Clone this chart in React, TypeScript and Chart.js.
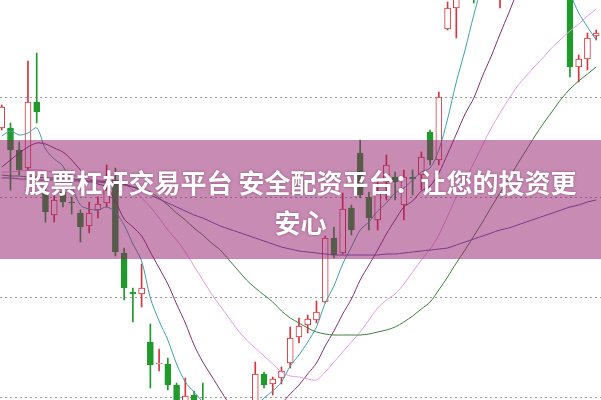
import React, { useEffect, useRef } from 'react';
import { Chart, registerables } from 'chart.js';

Chart.register(...registerables);

// Candles (price)
const opens = [12.69,12.69,12.47,12.29,12.95,12.04,11.82,12.05,11.95,11.84, 11.71,11.87,11.94,12.17,11.44,11.05,11.03,10.55,10.33,10.33, 10.12,9.85,10.02,9.92,9.72,9.77,9.69,9.79,9.85,9.95, 10.23,10.13,10.19,10.34,10.60,10.72,10.77,10.95,11.59,11.44, 11.89,12.44,12.00,11.77,12.15,12.20,11.92,12.20,12.22,12.65, 12.37,13.68,13.89,14.25,14.10,14.05,14.40,14.10,14.35,14.55, 14.30,14.45,14.55,14.15,14.05,14.12,13.30,13.38,13.61];
const highs = [12.92,12.74,12.55,13.36,13.44,12.12,12.02,12.09,12.00,11.87, 11.95,12.00,12.32,12.29,11.49,11.09,11.33,10.73,10.48,10.39, 10.14,10.19,10.06,10.14,9.87,9.85,9.92,9.94,9.95,10.35, 10.25,10.20,10.30,10.70,10.79,10.82,10.96,11.61,11.70,12.04, 11.92,12.57,12.05,12.17,12.42,12.25,12.27,12.27,12.45,12.67, 13.05,13.95,14.27,14.40,14.25,14.45,14.55,14.45,14.60,14.70, 14.55,14.70,14.65,14.30,14.35,14.22,13.42,13.64,13.67];
const lows = [12.67,12.07,12.22,12.27,12.74,11.75,11.75,11.90,11.83,11.55, 11.64,11.79,11.90,11.41,10.97,10.75,10.90,10.09,10.26,10.07, 9.82,9.79,9.77,9.67,9.57,9.57,9.52,9.67,9.72,9.92, 10.09,10.02,10.13,10.29,10.54,10.64,10.74,10.94,11.39,11.43, 11.62,11.99,11.67,11.67,11.97,11.97,11.77,12.02,12.07,12.32, 12.32,13.67,13.59,14.00,13.94,14.00,14.15,13.89,14.20,14.25, 14.15,14.30,14.10,14.02,14.00,13.20,13.15,13.27,13.57];
const closes = [12.90,12.47,12.27,12.95,12.85,11.85,11.97,11.95,11.94,11.70, 11.84,11.93,12.07,11.45,11.09,11.03,11.09,10.32,10.34,10.12, 9.87,10.01,9.85,9.72,9.77,9.67,9.79,9.85,9.92,10.23, 10.12,10.18,10.26,10.59,10.71,10.78,10.85,11.59,11.42,11.88, 11.67,12.02,11.79,12.05,12.32,12.15,12.20,12.18,12.40,12.37, 13.00,13.89,14.17,14.05,14.02,14.38,14.20,14.35,14.50,14.30, 14.45,14.60,14.15,14.05,14.25,13.30,13.38,13.59,13.64];

// Moving-average lines
const ma5 = [12.61,12.66,12.62,12.64,12.69,12.48,12.38,12.31,12.11,11.92, 11.88,11.87,11.90,11.85,11.72,11.53,11.36,10.99,10.76,10.57, 10.33,10.15,10.05,9.95,9.85,9.79,9.73,9.74,9.80,9.90, 9.99,10.06,10.15,10.31,10.42,10.55,10.70,10.94,11.11,11.33, 11.50,11.67,11.75,11.86,11.94,12.04,12.09,12.17,12.25,12.29, 12.47,12.78,13.15,13.47,13.82,14.10,14.16,14.20,14.29,14.35, 14.36,14.44,14.40,14.31,14.28,14.04,13.84,13.70,13.57];
const ma10 = [12.30,12.37,12.44,12.50,12.54,12.53,12.49,12.45,12.37,12.27, 12.18,12.13,12.10,11.96,11.78,11.70,11.61,11.45,11.29,11.13, 10.93,10.74,10.52,10.35,10.21,10.07,9.94,9.89,9.85,9.86, 9.89,9.90,9.94,10.03,10.12,10.23,10.34,10.51,10.66,10.83, 10.98,11.17,11.32,11.47,11.63,11.77,11.90,11.96,12.06,12.11, 12.24,12.43,12.63,12.83,12.99,13.21,13.41,13.63,13.84,14.05, 14.17,14.24,14.24,14.24,14.26,14.15,14.09,14.05,14.02];
const ma20 = [12.25,12.25,12.26,12.27,12.27,12.26,12.25,12.24,12.22,12.20, 12.18,12.17,12.16,12.15,12.13,12.07,11.99,11.90,11.79,11.67, 11.57,11.45,11.31,11.17,11.03,10.91,10.79,10.67,10.57,10.49, 10.41,10.33,10.25,10.21,10.20,10.18,10.17,10.25,10.35,10.45, 10.55,10.65,10.77,10.89,10.97,11.03,11.13,11.25,11.37,11.48, 11.62,11.81,12.00,12.17,12.34,12.52,12.69,12.84,12.98,13.11, 13.21,13.31,13.40,13.50,13.58,13.66,13.73,13.81,13.88];
const ma30 = [12.22,12.21,12.21,12.20,12.20,12.19,12.19,12.18,12.18,12.17, 12.16,12.16,12.15,12.14,12.12,12.10,12.08,12.05,11.99,11.92, 11.84,11.77,11.69,11.62,11.54,11.47,11.37,11.27,11.17,11.09, 11.02,10.95,10.86,10.79,10.74,10.69,10.65,10.63,10.62,10.62, 10.62,10.62,10.63,10.65,10.67,10.70,10.75,10.81,10.88,10.95, 11.07,11.20,11.34,11.47,11.61,11.75,11.90,12.04,12.18,12.33, 12.47,12.61,12.74,12.86,12.98,13.08,13.16,13.23,13.30];
const ma60 = [12.19,12.19,12.18,12.18,12.17,12.17,12.17,12.16,12.16,12.16, 12.15,12.15,12.14,12.14,12.13,12.10,12.06,12.02,11.98,11.94, 11.90,11.86,11.82,11.79,11.75,11.71,11.68,11.65,11.62,11.59, 11.56,11.53,11.50,11.48,11.46,11.45,11.44,11.43,11.42,11.42, 11.42,11.42,11.42,11.42,11.43,11.43,11.44,11.45,11.46,11.47, 11.48,11.49,11.52,11.55,11.58,11.61,11.64,11.67,11.69,11.72, 11.75,11.78,11.81,11.84,11.87,11.90,11.92,11.95,11.97];

const gridLevels = [10, 11, 12, 13];
const bannerLine1 = '股票杠杆交易平台 安全配资平台：让您的投资更';
const bannerLine2 = '安心';

const UP = '#d8343c';
const DOWN = '#1f9a2b';

export default function App() {
  const ref = useRef<HTMLCanvasElement | null>(null);

  useEffect(() => {
    document.body.style.margin = '0';
    const idx = opens.map((_, i) => i);
    const isUp = idx.map((i) => closes[i] >= opens[i]);
    const line = (data: number[], color: string) => ({
      type: 'line' as const,
      data: idx.map((i) => ({ x: i, y: data[i] })),
      borderColor: color,
      borderWidth: 1,
      pointRadius: 0,
      tension: 0.3,
      fill: false,
      order: 0,
    });
    const chart = new Chart(ref.current as HTMLCanvasElement, {
      type: 'bar',
      data: {
        datasets: [
          line(ma60, '#5d58a2'),
          line(ma30, '#3f7e3f'),
          line(ma20, '#e39be2'),
          line(ma10, '#7b3370'),
          line(ma5, '#3ba1ab'),
          {
            type: 'bar',
            data: idx.map((i) => ({ x: i, y: [opens[i], closes[i]] })),
            backgroundColor: idx.map((i) => (isUp[i] ? '#ffffff' : DOWN)),
            borderColor: idx.map((i) => (isUp[i] ? UP : DOWN)),
            borderWidth: 1,
            borderSkipped: false,
            barThickness: 6,
            minBarLength: 1,
            grouped: false,
            order: 1,
          } as any,
          {
            type: 'bar',
            data: idx.map((i) => ({ x: i, y: [lows[i], highs[i]] })),
            backgroundColor: idx.map((i) => (isUp[i] ? UP : DOWN)),
            borderWidth: 0,
            barThickness: 1,
            grouped: false,
            order: 2,
          } as any,
        ],
      },
      options: {
        responsive: false,
        maintainAspectRatio: false,
        animation: false,
        layout: { padding: 0 },
        plugins: { legend: { display: false }, tooltip: { enabled: false } },
        scales: {
          x: { type: 'linear', min: -0.2, max: 68.55, display: false, offset: false },
          y: {
            type: 'linear',
            min: 9.97,
            max: 13.97,
            afterFit: (s: any) => { s.width = 0; },
            afterBuildTicks: (s: any) => { s.ticks = gridLevels.map((v) => ({ value: v })); },
            ticks: { display: false },
            border: { display: false, dash: [2, 3] },
            grid: { color: '#9c9c9c', drawTicks: false, tickLength: 0, lineWidth: 1 },
          },
        },
      } as any,
    });
    return () => chart.destroy();
  }, []);

  return (
    <div style={{ position: 'relative', width: 601, height: 400, overflow: 'hidden', background: '#fff' }}>
      <style>{'body{margin:0}'}</style>
      <canvas ref={ref} width={601} height={400} style={{ display: 'block' }} />
      <div
        style={{
          position: 'absolute', left: 0, top: 140, width: 601, height: 119,
          background: 'rgba(145,25,105,0.5)',
        }}
      />
      <div
        style={{
          position: 'absolute', left: 0, top: 162, width: 601, textAlign: 'center',
          color: '#ffffff', fontFamily: '"Noto Sans CJK SC", "Noto Sans", sans-serif',
          fontWeight: 700, fontSize: 26, lineHeight: '40px', whiteSpace: 'nowrap',
          textShadow: '0 0 3px rgba(90,30,70,0.5)',
        }}
      >
        {bannerLine1}
        <br />
        {bannerLine2}
      </div>
    </div>
  );
}
